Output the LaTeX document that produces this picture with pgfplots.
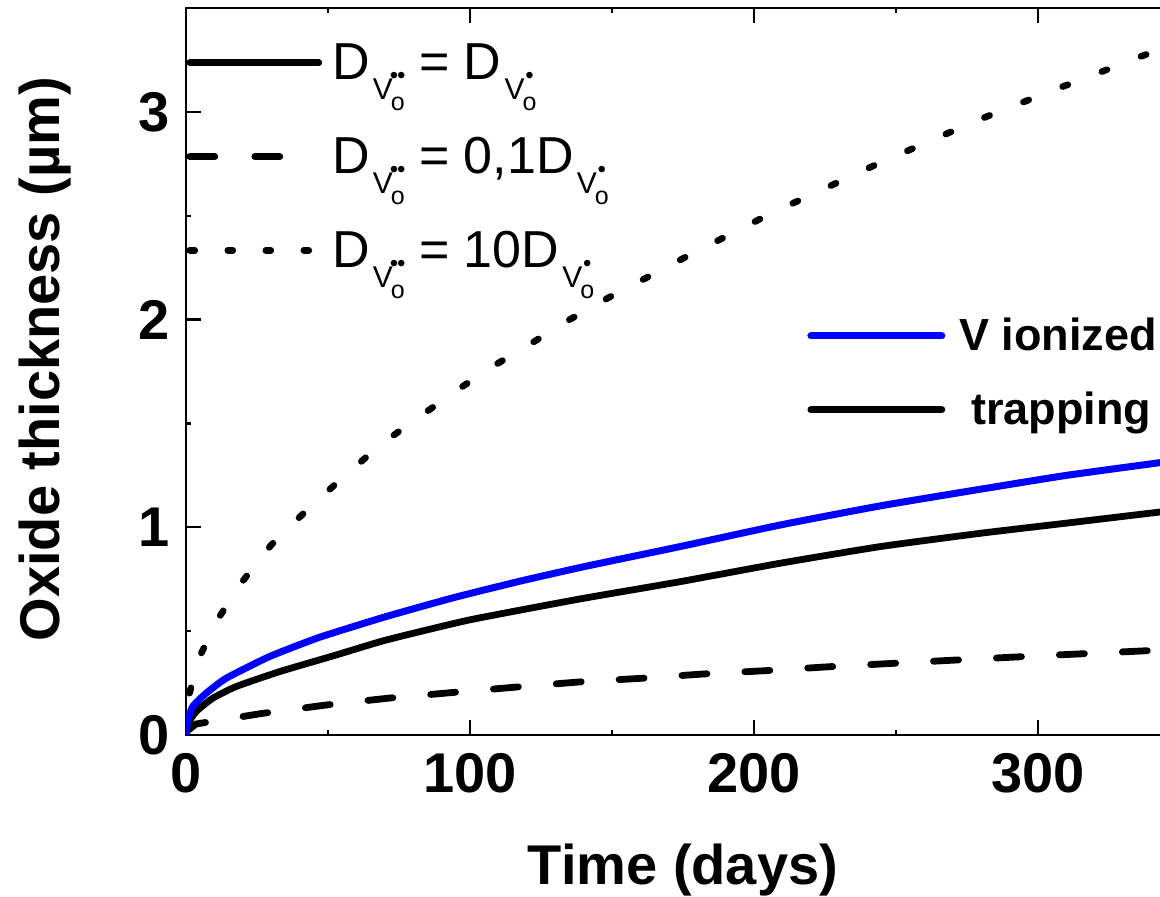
\documentclass[border=0pt]{standalone}
\usepackage{fontspec}
\setmainfont{Liberation Sans}
\usepackage{pgfplots}
\pgfplotsset{compat=1.18}

% subscript V_o with dots on top
\newcommand{\bul}{\char"2022}
\newcommand{\Vo}[1]{\kern1.5pt\raisebox{-10pt}{\fontsize{15}{15}\selectfont V}\kern-1pt\rlap{\raisebox{-15.5pt}{\fontsize{12.5}{12.5}\selectfont o}}\makebox[7pt][c]{\raisebox{-2pt}{\fontsize{12}{12}\selectfont #1}}}
\newcommand{\DD}{D\Vo{\bul\kern-0.6pt\bul}}
\newcommand{\DS}{D\Vo{\bul}}
\newcommand{\lt}[1]{\smash{\raisebox{-9.3pt}{#1}}}

\pgfplotstableread{
t     h
0     0
0.3   0.10
1.2   0.20
4.9   0.38
11.2  0.558
19.9  0.74
30.0  0.915
42.5  1.082
55.7  1.246
69.1  1.404
82.3  1.533
95.5  1.661
108.8 1.781
122.1 1.890
135.2 2.001
148.7 2.105
162.2 2.202
175.5 2.298
188.8 2.391
202.1 2.484
215.4 2.571
228.8 2.656
242.0 2.740
255.3 2.820
268.7 2.900
281.9 2.977
295.2 3.049
308.6 3.121
321.8 3.190
335.0 3.261
345.0 3.31
}\dotted

\pgfplotstableread{
t     h
0     0
0.5   0.02
3.5   0.053
26.8  0.104
49.1  0.144
71.0  0.177
93.3  0.204
115.6 0.230
138.0 0.255
160.2 0.273
182.4 0.294
204.5 0.310
226.8 0.329
249.0 0.345
271.1 0.361
300.0 0.381
345.0 0.41
}\dashed

\pgfplotstableread{
t     h
0     0
0.5   0.05
3.5   0.112
9.4   0.177
17.6  0.233
32.9  0.305
52.8  0.385
70.4  0.457
99.8  0.554
138.7 0.655
173.9 0.738
209.2 0.827
244.4 0.907
279.6 0.971
310.0 1.02
345.0 1.077
}\trapping

\pgfplotstableread{
t     h
0     0
0.5   0.06
2.3   0.136
7.0   0.20
14.1  0.273
29.3  0.377
46.9  0.470
70.4  0.570
93.9  0.660
117.4 0.740
140.0 0.810
173.9 0.907
209.2 1.011
244.4 1.103
279.6 1.183
310.0 1.25
345.0 1.315
}\ionized

\begin{document}
\begin{tikzpicture}
\pgfplotsset{
  base/.style={at={(93pt,80.5pt)}, anchor=south west, scale only axis,
    width=497pt, height=363.5pt, xmin=0, xmax=350, ymin=0, ymax=3.5},
}
\begin{axis}[base,
  xtick={0,100,200,300}, ytick={0,1,2,3},
  minor x tick num=1, minor y tick num=1,
  tick align=inside, major tick length=7.5pt, minor tick length=2.5pt,
  axis line style={line width=1.4pt},
  every tick/.style={black, line width=1.2pt},
  ticklabel style={font=\fontsize{28}{28}\selectfont\bfseries, inner sep=0pt},
  xticklabel shift=9pt, yticklabel shift=8pt,
  /pgf/number format/assume math mode=true,
  xlabel={Time (days)}, ylabel={Oxide thickness (µm)},
  every axis x label/.style={at={(axis description cs:0.5,-0.2063)}, anchor=base},
  every axis y label/.style={at={(axis description cs:-0.1268,0.517)}, rotate=90, anchor=base},
  label style={font=\fontsize{28}{28}\selectfont\bfseries},
  legend style={at={(axis description cs:0,0.9298)}, anchor=north west,
    draw=none, fill=none, inner sep=0pt, row sep=43.5pt,
    font=\fontsize{26}{26}\selectfont, nodes={inner sep=0pt},
    /tikz/every odd column/.append style={column sep=5pt}},
  legend cell align=left,
  legend image code/.code={\draw[#1] (0pt,0pt) -- (64.5pt,0pt);},
]
\addlegendimage{black, line width=3.4pt, line cap=round}
\addlegendentry{\lt{\DD{} = \DS}}
\addlegendimage{black, line width=3.4pt, line cap=round, dash pattern=on 12.5pt off 20pt}
\addlegendentry{\lt{\DD{} = 0,1\DS}}
\addlegendimage{black, line width=3.3pt, line cap=round, dash pattern=on 2.5pt off 16.5pt}
\addlegendentry{\lt{\DD{} = 10\DS}}

\addplot[forget plot, black, line width=3.3pt, line cap=round, dash pattern=on 2.8pt off 18.2pt] table[x=t, y=h] {\dotted};
\addplot[forget plot, black, line width=3.4pt, line cap=round, dash pattern=on 12.5pt off 19pt] table[x=t, y=h] {\dashed};
\addplot[forget plot, black, line width=3.4pt, smooth, tension=0.3] table[x=t, y=h] {\trapping};
\addplot[forget plot, blue, line width=3.5pt, smooth, tension=0.3] table[x=t, y=h] {\ionized};
\end{axis}

\begin{axis}[base, hide axis,
  legend style={at={(axis description cs:0.6247,0.5543)}, anchor=north west,
    draw=none, fill=none, inner sep=0pt, row sep=33.5pt,
    font=\fontsize{22.5}{22.5}\selectfont\bfseries, nodes={inner sep=0pt},
    /tikz/every odd column/.append style={column sep=7pt}},
  legend cell align=left,
  legend image code/.code={\draw[#1] (0pt,0pt) -- (65.5pt,0pt);},
]
\addlegendimage{blue, line width=3.5pt, line cap=round}
\addlegendentry{\smash{\raisebox{-8pt}{V ionized}}}
\addlegendimage{black, line width=3.4pt, line cap=round}
\addlegendentry{\smash{\raisebox{-8pt}{\hspace*{6pt}trapping}}}
\end{axis}
\pgfresetboundingbox
\useasboundingbox (0,0) rectangle (580pt,448pt);
\end{tikzpicture}
\end{document}
